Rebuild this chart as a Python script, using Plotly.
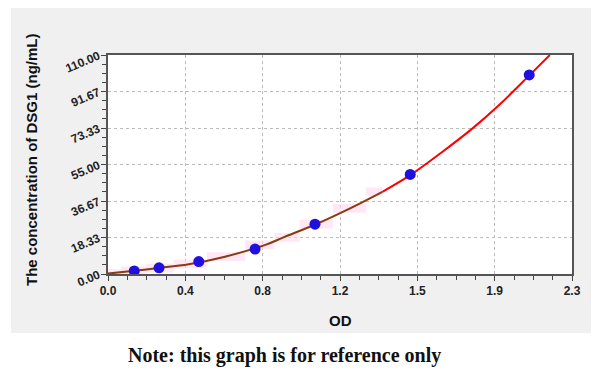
import plotly.graph_objects as go

# ---- data ----
od_points = [0.130, 0.253, 0.450, 0.729, 1.026, 1.498, 2.088]
conc_points = [1.56, 3.12, 6.25, 12.5, 25.0, 50.0, 100.0]

curve_x = [0.0, 0.13, 0.25, 0.40, 0.58, 0.78, 0.87, 1.03, 1.20, 1.36,
           1.50, 1.65, 1.81, 1.94, 2.09, 2.19]
curve_y = [0.2, 1.6, 3.0, 4.9, 8.7, 14.6, 18.4, 25.0, 33.0, 41.3,
           49.8, 60.8, 73.4, 85.0, 99.9, 110.0]
split_x = 1.36  # brown part up to here, red beyond

x_tick_vals = [0.0, 2.3 / 6, 2 * 2.3 / 6, 3 * 2.3 / 6, 4 * 2.3 / 6, 5 * 2.3 / 6, 2.3]
x_tick_text = ["0.0", "0.4", "0.8", "1.2", "1.5", "1.9", "2.3"]
y_tick_vals = [0.0, 110 / 6, 2 * 110 / 6, 3 * 110 / 6, 4 * 110 / 6, 5 * 110 / 6, 110.0]
y_tick_text = ["0.00", "18.33", "36.67", "55.00", "73.33", "91.67", "110.00"]

band_half = 2.2

# ---- build ----
low_x = [x for x in curve_x if x <= split_x]
low_y = [y for x, y in zip(curve_x, curve_y) if x <= split_x]
high_x = [x for x in curve_x if x >= split_x]
high_y = [y for x, y in zip(curve_x, curve_y) if x >= split_x]

fig = go.Figure()

# pink band
fig.add_trace(go.Scatter(x=low_x, y=[y - band_half for y in low_y], mode="lines",
                         line=dict(width=0, shape="hvh"), hoverinfo="skip", showlegend=False))
fig.add_trace(go.Scatter(x=low_x, y=[y + band_half for y in low_y], mode="lines",
                         line=dict(width=0, shape="hvh"), fill="tonexty",
                         fillcolor="rgba(255,215,240,0.6)", hoverinfo="skip", showlegend=False))

fig.add_trace(go.Scatter(x=low_x, y=low_y, mode="lines",
                         line=dict(color="#8B3A0F", width=2, shape="spline", smoothing=1.0),
                         showlegend=False))
fig.add_trace(go.Scatter(x=high_x, y=high_y, mode="lines",
                         line=dict(color="#FF0000", width=2, shape="spline", smoothing=1.0),
                         showlegend=False))
fig.add_trace(go.Scatter(x=od_points, y=conc_points, mode="markers",
                         marker=dict(color="#1F10E0", size=11, line=dict(width=0)),
                         showlegend=False))

# page has an 8px body margin, so figure is 8px smaller and shifted
OFF = 8
W, H = 600 - OFF, 373 - OFF
L, R, T, B = 108 - OFF, 28, 55 - OFF, 99
pw = W - L - R
ph = H - T - B


def px(x):
    return (x - OFF - L) / pw


def py(y):
    return (H - B - (y - OFF)) / ph


fig.add_shape(type="rect", xref="paper", yref="paper",
              x0=px(11), x1=px(591), y0=py(333), y1=py(0),
              fillcolor="#F0F0F0", line=dict(width=0), layer="below")
fig.add_shape(type="rect", xref="paper", yref="paper",
              x0=0, x1=1, y0=0, y1=1,
              fillcolor="white", line=dict(width=0), layer="below")

fig.add_annotation(text="Note: this graph is for reference only", xref="paper", yref="paper",
                   x=px(284), y=py(355), showarrow=False, xanchor="center", yanchor="middle",
                   font=dict(family="Liberation Serif", size=20, color="#111111", weight="bold"))

title_font = dict(family="Liberation Sans", size=15, color="#111111", weight="bold")
fig.add_annotation(text="OD", xref="paper", yref="paper", x=px(340), y=py(320),
                   showarrow=False, xanchor="center", yanchor="middle", font=title_font)
fig.add_annotation(text="The concentration of DSG1 (ng/mL)", xref="paper", yref="paper",
                   x=px(31), y=py(160), textangle=-90,
                   showarrow=False, xanchor="center", yanchor="middle", font=title_font)

tickfont = dict(family="Liberation Sans", size=12, color="#222222", weight="bold")

fig.update_xaxes(range=[0, 2.3], tickmode="array", tickvals=x_tick_vals, ticktext=x_tick_text,
                 ticks="outside", ticklen=5, tickcolor="#444", tickwidth=1,
                 showline=True, linecolor="#555555", linewidth=2, mirror=True,
                 showgrid=True, gridcolor="#BBBBBB", griddash="dot", gridwidth=1,
                 zeroline=False, tickfont=tickfont,
                 minor=dict(tickmode="linear", tick0=0, dtick=2.3 / 24, ticks="outside",
                            ticklen=4, tickcolor="#444", showgrid=False))
fig.update_yaxes(range=[0, 110], tickmode="array", tickvals=y_tick_vals, ticktext=y_tick_text,
                 ticks="outside", ticklen=5, tickcolor="#444", tickwidth=1, tickangle=-23,
                 showline=True, linecolor="#555555", linewidth=2, mirror=True,
                 showgrid=True, gridcolor="#BBBBBB", griddash="dot", gridwidth=1,
                 zeroline=False, tickfont=tickfont,
                 minor=dict(tickmode="linear", tick0=0, dtick=110 / 24, ticks="outside",
                            ticklen=4, tickcolor="#444", showgrid=False))

fig.update_layout(width=W, height=H, margin=dict(l=L, r=R, t=T, b=B, autoexpand=False),
                  paper_bgcolor="white", plot_bgcolor="white")

fig.write_html("out.html")
